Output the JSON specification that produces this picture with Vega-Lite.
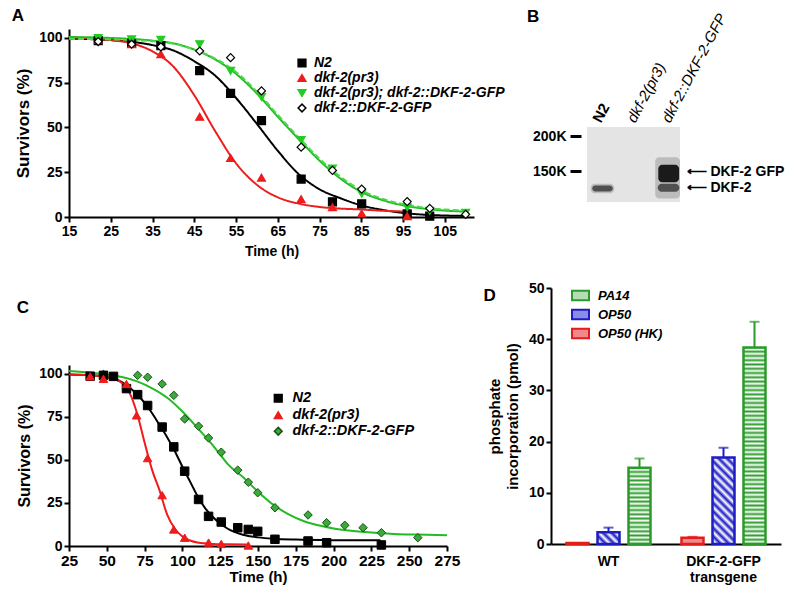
{
  "$schema": "https://vega.github.io/schema/vega-lite/v6.json",
  "background": "white",
  "padding": {"left": 11, "top": 7, "right": 0, "bottom": 0},
  "config": {
    "font": "Liberation Sans",
    "view": {"stroke": null},
    "axis": {"domainColor": "black", "domainWidth": 2, "tickColor": "black", "tickWidth": 2, "tickSize": 5, "labelFont": "Liberation Sans", "labelFontWeight": "bold", "labelFontSize": 14, "labelColor": "black", "labelPadding": 2, "titleFont": "Liberation Sans", "titleFontWeight": "bold", "titleFontSize": 16, "titleColor": "black", "grid": false},
    "title": {"font": "Liberation Sans", "fontSize": 17, "fontWeight": "bold", "color": "black", "anchor": "start", "frame": "bounds"},
    "legend": {"labelFont": "Liberation Sans", "labelFontSize": 13, "labelFontStyle": "italic", "labelFontWeight": "bold", "labelColor": "black", "padding": 0, "labelLimit": 400}
  },
  "datasets": {
    "ptsA": [
      {"s": "N2", "t": 22, "y": 98.5}, {"s": "N2", "t": 30, "y": 97}, {"s": "N2", "t": 37, "y": 95.7}, {"s": "N2", "t": 46.3, "y": 81.7}, {"s": "N2", "t": 53.7, "y": 69}, {"s": "N2", "t": 61.1, "y": 53.8}, {"s": "N2", "t": 70.6, "y": 21.2}, {"s": "N2", "t": 78.1, "y": 8.5}, {"s": "N2", "t": 85.1, "y": 7.3}, {"s": "N2", "t": 96, "y": 1.7}, {"s": "N2", "t": 101.4, "y": 0.5},
      {"s": "dkf-2(pr3)", "t": 22, "y": 99}, {"s": "dkf-2(pr3)", "t": 30, "y": 96.5}, {"s": "dkf-2(pr3)", "t": 37, "y": 91}, {"s": "dkf-2(pr3)", "t": 46.3, "y": 56}, {"s": "dkf-2(pr3)", "t": 53.7, "y": 33}, {"s": "dkf-2(pr3)", "t": 61.1, "y": 22}, {"s": "dkf-2(pr3)", "t": 70.6, "y": 10}, {"s": "dkf-2(pr3)", "t": 78.1, "y": 5.5}, {"s": "dkf-2(pr3)", "t": 85.1, "y": 2}, {"s": "dkf-2(pr3)", "t": 96, "y": 0.5},
      {"s": "dkf-2(pr3); dkf-2::DKF-2-GFP", "t": 22, "y": 100}, {"s": "dkf-2(pr3); dkf-2::DKF-2-GFP", "t": 30, "y": 99.2}, {"s": "dkf-2(pr3); dkf-2::DKF-2-GFP", "t": 37, "y": 99}, {"s": "dkf-2(pr3); dkf-2::DKF-2-GFP", "t": 46.3, "y": 96.5}, {"s": "dkf-2(pr3); dkf-2::DKF-2-GFP", "t": 53.7, "y": 81.6}, {"s": "dkf-2(pr3); dkf-2::DKF-2-GFP", "t": 61.1, "y": 67}, {"s": "dkf-2(pr3); dkf-2::DKF-2-GFP", "t": 70.6, "y": 43}, {"s": "dkf-2(pr3); dkf-2::DKF-2-GFP", "t": 78.1, "y": 27}, {"s": "dkf-2(pr3); dkf-2::DKF-2-GFP", "t": 85.1, "y": 13}, {"s": "dkf-2(pr3); dkf-2::DKF-2-GFP", "t": 96, "y": 5.4}, {"s": "dkf-2(pr3); dkf-2::DKF-2-GFP", "t": 101.4, "y": 3.5}, {"s": "dkf-2(pr3); dkf-2::DKF-2-GFP", "t": 110, "y": 2.4},
      {"s": "dkf-2::DKF-2-GFP", "t": 22, "y": 98}, {"s": "dkf-2::DKF-2-GFP", "t": 30, "y": 96.5}, {"s": "dkf-2::DKF-2-GFP", "t": 37, "y": 95}, {"s": "dkf-2::DKF-2-GFP", "t": 46.3, "y": 92.7}, {"s": "dkf-2::DKF-2-GFP", "t": 53.7, "y": 89}, {"s": "dkf-2::DKF-2-GFP", "t": 61.1, "y": 70.4}, {"s": "dkf-2::DKF-2-GFP", "t": 70.6, "y": 39}, {"s": "dkf-2::DKF-2-GFP", "t": 78.1, "y": 26}, {"s": "dkf-2::DKF-2-GFP", "t": 85.1, "y": 15.6}, {"s": "dkf-2::DKF-2-GFP", "t": 96, "y": 8.6}, {"s": "dkf-2::DKF-2-GFP", "t": 101.4, "y": 4.8}, {"s": "dkf-2::DKF-2-GFP", "t": 110, "y": 1.5}
    ],
    "curvesA": [
      {"s": "N2", "t": 15, "y": 99.6}, {"s": "N2", "t": 25, "y": 98.8}, {"s": "N2", "t": 35, "y": 96}, {"s": "N2", "t": 40, "y": 93}, {"s": "N2", "t": 45, "y": 87}, {"s": "N2", "t": 50, "y": 79}, {"s": "N2", "t": 55, "y": 66.5}, {"s": "N2", "t": 60, "y": 52}, {"s": "N2", "t": 65, "y": 37}, {"s": "N2", "t": 70, "y": 24}, {"s": "N2", "t": 75, "y": 15.5}, {"s": "N2", "t": 80, "y": 10.5}, {"s": "N2", "t": 85, "y": 6.5}, {"s": "N2", "t": 90, "y": 4}, {"s": "N2", "t": 95, "y": 2.3}, {"s": "N2", "t": 100, "y": 1.3}, {"s": "N2", "t": 110, "y": 0.6},
      {"s": "dkf-2(pr3)", "t": 15, "y": 100.4}, {"s": "dkf-2(pr3)", "t": 25, "y": 98.8}, {"s": "dkf-2(pr3)", "t": 30, "y": 97}, {"s": "dkf-2(pr3)", "t": 35, "y": 92.5}, {"s": "dkf-2(pr3)", "t": 40, "y": 84}, {"s": "dkf-2(pr3)", "t": 45, "y": 68}, {"s": "dkf-2(pr3)", "t": 50, "y": 48}, {"s": "dkf-2(pr3)", "t": 55, "y": 30}, {"s": "dkf-2(pr3)", "t": 60, "y": 18}, {"s": "dkf-2(pr3)", "t": 65, "y": 11}, {"s": "dkf-2(pr3)", "t": 70, "y": 7.5}, {"s": "dkf-2(pr3)", "t": 75, "y": 5.6}, {"s": "dkf-2(pr3)", "t": 80, "y": 4.7}, {"s": "dkf-2(pr3)", "t": 85, "y": 4.2}, {"s": "dkf-2(pr3)", "t": 90, "y": 3.5}, {"s": "dkf-2(pr3)", "t": 96.7, "y": 3},
      {"s": "dkf-2(pr3); dkf-2::DKF-2-GFP", "t": 15, "y": 100.5}, {"s": "dkf-2(pr3); dkf-2::DKF-2-GFP", "t": 25, "y": 100}, {"s": "dkf-2(pr3); dkf-2::DKF-2-GFP", "t": 35, "y": 98.5}, {"s": "dkf-2(pr3); dkf-2::DKF-2-GFP", "t": 40, "y": 97}, {"s": "dkf-2(pr3); dkf-2::DKF-2-GFP", "t": 45, "y": 93.5}, {"s": "dkf-2(pr3); dkf-2::DKF-2-GFP", "t": 50, "y": 88}, {"s": "dkf-2(pr3); dkf-2::DKF-2-GFP", "t": 55, "y": 80}, {"s": "dkf-2(pr3); dkf-2::DKF-2-GFP", "t": 60, "y": 69}, {"s": "dkf-2(pr3); dkf-2::DKF-2-GFP", "t": 65, "y": 56}, {"s": "dkf-2(pr3); dkf-2::DKF-2-GFP", "t": 70, "y": 43.5}, {"s": "dkf-2(pr3); dkf-2::DKF-2-GFP", "t": 75, "y": 31.5}, {"s": "dkf-2(pr3); dkf-2::DKF-2-GFP", "t": 80, "y": 21.5}, {"s": "dkf-2(pr3); dkf-2::DKF-2-GFP", "t": 85, "y": 14}, {"s": "dkf-2(pr3); dkf-2::DKF-2-GFP", "t": 90, "y": 9.5}, {"s": "dkf-2(pr3); dkf-2::DKF-2-GFP", "t": 95, "y": 6.5}, {"s": "dkf-2(pr3); dkf-2::DKF-2-GFP", "t": 100, "y": 4.7}, {"s": "dkf-2(pr3); dkf-2::DKF-2-GFP", "t": 105, "y": 3.6}, {"s": "dkf-2(pr3); dkf-2::DKF-2-GFP", "t": 110, "y": 3},
      {"s": "dkf-2::DKF-2-GFP", "t": 15, "y": 99.5}, {"s": "dkf-2::DKF-2-GFP", "t": 25, "y": 99.2}, {"s": "dkf-2::DKF-2-GFP", "t": 35, "y": 98.2}, {"s": "dkf-2::DKF-2-GFP", "t": 40, "y": 96.8}, {"s": "dkf-2::DKF-2-GFP", "t": 45, "y": 93.5}, {"s": "dkf-2::DKF-2-GFP", "t": 50, "y": 88.5}, {"s": "dkf-2::DKF-2-GFP", "t": 55, "y": 81}, {"s": "dkf-2::DKF-2-GFP", "t": 60, "y": 70}, {"s": "dkf-2::DKF-2-GFP", "t": 65, "y": 57}, {"s": "dkf-2::DKF-2-GFP", "t": 70, "y": 44.5}, {"s": "dkf-2::DKF-2-GFP", "t": 75, "y": 32.5}, {"s": "dkf-2::DKF-2-GFP", "t": 80, "y": 22.5}, {"s": "dkf-2::DKF-2-GFP", "t": 85, "y": 15}, {"s": "dkf-2::DKF-2-GFP", "t": 90, "y": 10.2}, {"s": "dkf-2::DKF-2-GFP", "t": 95, "y": 7.2}, {"s": "dkf-2::DKF-2-GFP", "t": 100, "y": 5.3}, {"s": "dkf-2::DKF-2-GFP", "t": 105, "y": 4.2}, {"s": "dkf-2::DKF-2-GFP", "t": 110, "y": 3.5}
    ],
    "ptsC": [
      {"s": "dkf-2::DKF-2-GFP", "t": 47.8, "y": 99.5}, {"s": "dkf-2::DKF-2-GFP", "t": 70.4, "y": 99}, {"s": "dkf-2::DKF-2-GFP", "t": 77, "y": 97.9}, {"s": "dkf-2::DKF-2-GFP", "t": 86.6, "y": 94}, {"s": "dkf-2::DKF-2-GFP", "t": 94.3, "y": 87.4}, {"s": "dkf-2::DKF-2-GFP", "t": 101.5, "y": 73.7}, {"s": "dkf-2::DKF-2-GFP", "t": 110.7, "y": 69.5}, {"s": "dkf-2::DKF-2-GFP", "t": 117.3, "y": 62.7}, {"s": "dkf-2::DKF-2-GFP", "t": 125.7, "y": 54.4}, {"s": "dkf-2::DKF-2-GFP", "t": 136.6, "y": 44}, {"s": "dkf-2::DKF-2-GFP", "t": 143.6, "y": 37}, {"s": "dkf-2::DKF-2-GFP", "t": 149.8, "y": 30.9}, {"s": "dkf-2::DKF-2-GFP", "t": 161.2, "y": 22.2}, {"s": "dkf-2::DKF-2-GFP", "t": 183.1, "y": 18}, {"s": "dkf-2::DKF-2-GFP", "t": 195.4, "y": 13.5}, {"s": "dkf-2::DKF-2-GFP", "t": 207.4, "y": 12}, {"s": "dkf-2::DKF-2-GFP", "t": 219.5, "y": 10.6}, {"s": "dkf-2::DKF-2-GFP", "t": 231.6, "y": 7.7}, {"s": "dkf-2::DKF-2-GFP", "t": 255.7, "y": 4.8},
      {"s": "N2", "t": 39, "y": 98.5}, {"s": "N2", "t": 47.8, "y": 99}, {"s": "N2", "t": 54.4, "y": 98.4}, {"s": "N2", "t": 63, "y": 91.3}, {"s": "N2", "t": 70.4, "y": 87.8}, {"s": "N2", "t": 77, "y": 81.5}, {"s": "N2", "t": 86.6, "y": 69}, {"s": "N2", "t": 94.3, "y": 57.5}, {"s": "N2", "t": 101.5, "y": 43.4}, {"s": "N2", "t": 110.7, "y": 27}, {"s": "N2", "t": 117.3, "y": 17.2}, {"s": "N2", "t": 125.7, "y": 13.9}, {"s": "N2", "t": 136.6, "y": 10.6}, {"s": "N2", "t": 143.6, "y": 9.6}, {"s": "N2", "t": 149.8, "y": 8.5}, {"s": "N2", "t": 161.2, "y": 3.9}, {"s": "N2", "t": 183.1, "y": 2.9}, {"s": "N2", "t": 195.4, "y": 1.9}, {"s": "N2", "t": 231.6, "y": 0.6},
      {"s": "dkf-2(pr3)", "t": 39, "y": 98.4}, {"s": "dkf-2(pr3)", "t": 47.8, "y": 97}, {"s": "dkf-2(pr3)", "t": 63, "y": 94}, {"s": "dkf-2(pr3)", "t": 69.7, "y": 75.8}, {"s": "dkf-2(pr3)", "t": 77, "y": 51}, {"s": "dkf-2(pr3)", "t": 86.6, "y": 29.5}, {"s": "dkf-2(pr3)", "t": 94.3, "y": 9.6}, {"s": "dkf-2(pr3)", "t": 101.5, "y": 4.8}, {"s": "dkf-2(pr3)", "t": 117.3, "y": 2}, {"s": "dkf-2(pr3)", "t": 125.7, "y": 1.2}, {"s": "dkf-2(pr3)", "t": 143.6, "y": 0.3}
    ],
    "curvesC": [
      {"s": "N2", "t": 25, "y": 99.5}, {"s": "N2", "t": 40, "y": 99}, {"s": "N2", "t": 50, "y": 98}, {"s": "N2", "t": 60, "y": 95}, {"s": "N2", "t": 65, "y": 92}, {"s": "N2", "t": 70, "y": 88}, {"s": "N2", "t": 75, "y": 83}, {"s": "N2", "t": 80, "y": 77}, {"s": "N2", "t": 85, "y": 70}, {"s": "N2", "t": 90, "y": 63}, {"s": "N2", "t": 95, "y": 55}, {"s": "N2", "t": 100, "y": 46}, {"s": "N2", "t": 105, "y": 37.5}, {"s": "N2", "t": 110, "y": 29}, {"s": "N2", "t": 115, "y": 22}, {"s": "N2", "t": 120, "y": 17}, {"s": "N2", "t": 125, "y": 13}, {"s": "N2", "t": 130, "y": 10}, {"s": "N2", "t": 140, "y": 6.5}, {"s": "N2", "t": 150, "y": 5}, {"s": "N2", "t": 160, "y": 4.2}, {"s": "N2", "t": 175, "y": 3.7}, {"s": "N2", "t": 200, "y": 3.4}, {"s": "N2", "t": 231, "y": 3.3},
      {"s": "dkf-2(pr3)", "t": 25, "y": 99.5}, {"s": "dkf-2(pr3)", "t": 40, "y": 99}, {"s": "dkf-2(pr3)", "t": 50, "y": 98}, {"s": "dkf-2(pr3)", "t": 55, "y": 97}, {"s": "dkf-2(pr3)", "t": 60, "y": 94.5}, {"s": "dkf-2(pr3)", "t": 65, "y": 89}, {"s": "dkf-2(pr3)", "t": 70, "y": 77}, {"s": "dkf-2(pr3)", "t": 75, "y": 60}, {"s": "dkf-2(pr3)", "t": 78, "y": 50}, {"s": "dkf-2(pr3)", "t": 80, "y": 44}, {"s": "dkf-2(pr3)", "t": 85, "y": 32}, {"s": "dkf-2(pr3)", "t": 90, "y": 18}, {"s": "dkf-2(pr3)", "t": 95, "y": 10}, {"s": "dkf-2(pr3)", "t": 100, "y": 5.5}, {"s": "dkf-2(pr3)", "t": 105, "y": 3.2}, {"s": "dkf-2(pr3)", "t": 110, "y": 2}, {"s": "dkf-2(pr3)", "t": 120, "y": 1.2}, {"s": "dkf-2(pr3)", "t": 130, "y": 1}, {"s": "dkf-2(pr3)", "t": 143, "y": 0.9},
      {"s": "dkf-2::DKF-2-GFP", "t": 25, "y": 101.5}, {"s": "dkf-2::DKF-2-GFP", "t": 40, "y": 100.5}, {"s": "dkf-2::DKF-2-GFP", "t": 50, "y": 99.5}, {"s": "dkf-2::DKF-2-GFP", "t": 60, "y": 98}, {"s": "dkf-2::DKF-2-GFP", "t": 70, "y": 95.5}, {"s": "dkf-2::DKF-2-GFP", "t": 80, "y": 91.5}, {"s": "dkf-2::DKF-2-GFP", "t": 90, "y": 86}, {"s": "dkf-2::DKF-2-GFP", "t": 100, "y": 78}, {"s": "dkf-2::DKF-2-GFP", "t": 110, "y": 68.5}, {"s": "dkf-2::DKF-2-GFP", "t": 120, "y": 58.5}, {"s": "dkf-2::DKF-2-GFP", "t": 125, "y": 53}, {"s": "dkf-2::DKF-2-GFP", "t": 130, "y": 47.5}, {"s": "dkf-2::DKF-2-GFP", "t": 140, "y": 40}, {"s": "dkf-2::DKF-2-GFP", "t": 150, "y": 31.5}, {"s": "dkf-2::DKF-2-GFP", "t": 160, "y": 24}, {"s": "dkf-2::DKF-2-GFP", "t": 170, "y": 18.5}, {"s": "dkf-2::DKF-2-GFP", "t": 180, "y": 14.5}, {"s": "dkf-2::DKF-2-GFP", "t": 190, "y": 12}, {"s": "dkf-2::DKF-2-GFP", "t": 200, "y": 10.2}, {"s": "dkf-2::DKF-2-GFP", "t": 210, "y": 9}, {"s": "dkf-2::DKF-2-GFP", "t": 225, "y": 7.8}, {"s": "dkf-2::DKF-2-GFP", "t": 240, "y": 7}, {"s": "dkf-2::DKF-2-GFP", "t": 255, "y": 6.6}, {"s": "dkf-2::DKF-2-GFP", "t": 275, "y": 6.3}
    ],
    "gel": [{"x": 0, "x2": 3, "y": 106, "y2": 213}],
    "bands": [
      {"k": "faint", "x": 0.12, "x2": 0.88, "y": 118.5, "y2": 132},
      {"k": "band", "x": 0.17, "x2": 0.83, "y": 121, "y2": 129.5},
      {"k": "haze", "x": 2.2, "x2": 3.0, "y": 111, "y2": 170},
      {"k": "band", "x": 2.28, "x2": 2.98, "y": 120.5, "y2": 132},
      {"k": "core", "x": 2.3, "x2": 2.97, "y": 134, "y2": 159}
    ],
    "bars": [
      {"g": "WT", "t": "OP50 (HK)", "v": 0.2},
      {"g": "WT", "t": "OP50", "v": 2.3, "hi": 3.2},
      {"g": "WT", "t": "PA14", "v": 14.9, "hi": 16.7},
      {"g": "DKF", "t": "OP50 (HK)", "v": 1.2, "hi": 1.4},
      {"g": "DKF", "t": "OP50", "v": 16.9, "hi": 18.8},
      {"g": "DKF", "t": "PA14", "v": 38.4, "hi": 43.4}
    ]
  },
  "spacing": -22,
  "resolve": {
    "scale": {"color": "independent", "fill": "independent", "stroke": "independent", "shape": "independent", "strokeDash": "independent"}
  },
  "hconcat": [
    {
      "spacing": 41,
      "resolve": {
        "scale": {"color": "independent", "fill": "independent", "stroke": "independent", "shape": "independent", "strokeDash": "independent"}
      },
      "vconcat": [
        {
          "width": 405, "height": 188,
          "title": {"text": "A", "dx": -3, "offset": 4},
          "layer": [
            {
              "data": {"name": "curvesA"},
              "mark": {"type": "line", "strokeWidth": 2, "interpolate": "monotone"},
              "encoding": {
                "x": {"field": "t", "type": "quantitative", "scale": {"domain": [15, 112], "nice": false, "zero": false}, "axis": {"values": [15, 25, 35, 45, 55, 65, 75, 85, 95, 105], "title": "Time (h)", "titleFontSize": 14, "titlePadding": 6, "labelPadding": 2, "labelFlush": false, "labelOverlap": false}},
                "y": {"field": "y", "type": "quantitative", "scale": {"domain": [0, 105], "nice": false}, "axis": {"values": [0, 25, 50, 75, 100], "title": "Survivors (%)", "titleFontSize": 17, "titlePadding": 6}},
                "color": {"field": "s", "type": "nominal", "scale": {"domain": ["dkf-2::DKF-2-GFP", "dkf-2(pr3); dkf-2::DKF-2-GFP", "dkf-2(pr3)", "N2"], "range": ["#4cd84c", "#22bb22", "#ee1c1c", "#000000"]}, "legend": null},
                "strokeDash": {"field": "s", "type": "nominal", "scale": {"domain": ["dkf-2::DKF-2-GFP", "dkf-2(pr3); dkf-2::DKF-2-GFP", "dkf-2(pr3)", "N2"], "range": [[6, 3], [1, 0], [1, 0], [1, 0]]}, "legend": null}
              }
            },
            {
              "data": {"name": "ptsA"},
              "mark": {"type": "point", "filled": true, "size": 64, "strokeWidth": 1.2, "opacity": 1},
              "encoding": {
                "x": {"field": "t", "type": "quantitative", "axis": {"values": [15, 25, 35, 45, 55, 65, 75, 85, 95, 105], "title": "Time (h)", "titleFontSize": 14, "titlePadding": 6, "labelPadding": 2, "labelFlush": false, "labelOverlap": false}},
                "y": {"field": "y", "type": "quantitative"},
                "shape": {"field": "s", "type": "nominal", "scale": {"domain": ["N2", "dkf-2(pr3)", "dkf-2(pr3); dkf-2::DKF-2-GFP", "dkf-2::DKF-2-GFP"], "range": ["square", "triangle-up", "triangle-down", "diamond"]}, "legend": {"title": null, "orient": "none", "legendX": 226, "legendY": 27, "symbolSize": 60, "labelOffset": 5, "rowPadding": 1, "labelFontSize": 14}},
                "fill": {"field": "s", "type": "nominal", "scale": {"domain": ["N2", "dkf-2(pr3)", "dkf-2(pr3); dkf-2::DKF-2-GFP", "dkf-2::DKF-2-GFP"], "range": ["#000000", "#ee1c1c", "#22cc22", "#ffffff"]}, "legend": {"title": null, "orient": "none", "legendX": 226, "legendY": 27, "symbolSize": 60, "labelOffset": 5, "rowPadding": 1, "labelFontSize": 14}},
                "stroke": {"field": "s", "type": "nominal", "scale": {"domain": ["N2", "dkf-2(pr3)", "dkf-2(pr3); dkf-2::DKF-2-GFP", "dkf-2::DKF-2-GFP"], "range": ["#000000", "#ee1c1c", "#22cc22", "#000000"]}, "legend": {"title": null, "orient": "none", "legendX": 226, "legendY": 27, "symbolSize": 60, "labelOffset": 5, "rowPadding": 1, "labelFontSize": 14}}
              }
            }
          ]
        },
        {
          "width": 378, "height": 181,
          "title": {"text": "C", "offset": 48},
          "layer": [
            {
              "data": {"name": "curvesC"},
              "mark": {"type": "line", "strokeWidth": 2, "interpolate": "monotone"},
              "encoding": {
                "x": {"field": "t", "type": "quantitative", "scale": {"domain": [25, 275], "nice": false, "zero": false}, "axis": {"values": [25, 50, 75, 100, 125, 150, 175, 200, 225, 250, 275], "title": "Time (h)", "titleFontSize": 15, "titlePadding": 1, "labelFontSize": 15.5, "labelPadding": 2, "labelFlush": false, "labelOverlap": false}},
                "y": {"field": "y", "type": "quantitative", "scale": {"domain": [0, 105], "nice": false}, "axis": {"values": [0, 25, 50, 75, 100], "title": "Survivors (%)", "titleFontSize": 16, "titlePadding": 6}},
                "color": {"field": "s", "type": "nominal", "scale": {"domain": ["dkf-2::DKF-2-GFP", "dkf-2(pr3)", "N2"], "range": ["#22bb22", "#ee1c1c", "#000000"]}, "legend": null}
              }
            },
            {
              "data": {"name": "ptsC"},
              "mark": {"type": "point", "filled": true, "size": 72, "strokeWidth": 1, "opacity": 1},
              "encoding": {
                "x": {"field": "t", "type": "quantitative", "axis": {"values": [25, 50, 75, 100, 125, 150, 175, 200, 225, 250, 275], "title": "Time (h)", "titleFontSize": 15, "titlePadding": 1, "labelFontSize": 15.5, "labelPadding": 2, "labelFlush": false, "labelOverlap": false}},
                "y": {"field": "y", "type": "quantitative"},
                "shape": {"field": "s", "type": "nominal", "scale": {"domain": ["N2", "dkf-2(pr3)", "dkf-2::DKF-2-GFP"], "range": ["square", "triangle-up", "diamond"]}, "legend": {"title": null, "orient": "none", "legendX": 202, "legendY": 26, "symbolSize": 60, "labelOffset": 7, "rowPadding": 1, "labelFontSize": 14.5}},
                "fill": {"field": "s", "type": "nominal", "scale": {"domain": ["N2", "dkf-2(pr3)", "dkf-2::DKF-2-GFP"], "range": ["#000000", "#ee1c1c", "#3aaa3a"]}, "legend": {"title": null, "orient": "none", "legendX": 202, "legendY": 26, "symbolSize": 60, "labelOffset": 7, "rowPadding": 1, "labelFontSize": 14.5}},
                "stroke": {"field": "s", "type": "nominal", "scale": {"domain": ["N2", "dkf-2(pr3)", "dkf-2::DKF-2-GFP"], "range": ["#000000", "#ee1c1c", "#174f17"]}, "legend": {"title": null, "orient": "none", "legendX": 202, "legendY": 26, "symbolSize": 60, "labelOffset": 7, "rowPadding": 1, "labelFontSize": 14.5}}
              }
            }
          ]
        }
      ]
    },
    {
      "spacing": 79,
      "resolve": {
        "scale": {"color": "independent", "fill": "independent", "stroke": "independent", "shape": "independent", "strokeDash": "independent"}
      },
      "vconcat": [
        {
          "width": 129, "height": 173,
          "title": {"text": "B", "frame": "group", "dx": -24, "offset": -15},
          "resolve": {"axis": {"y": "independent", "x": "independent"}},
          "layer": [
            {
              "data": {"name": "gel"},
              "mark": {"type": "rect", "fill": "#e4e4e4"},
              "encoding": {
                "x": {"field": "x", "type": "quantitative", "scale": {"domain": [-1.161, 3], "nice": false, "zero": false}, "axis": {"orient": "top", "offset": -98, "values": [0.29, 1.4, 2.52], "labelExpr": "datum.value < 1 ? 'N2' : datum.value < 2 ? 'dkf-2(pr3)' : 'dkf-2::DKF-2-GFP'", "labelAngle": -62, "labelAlign": "left", "labelBaseline": "middle", "labelOverlap": false, "domain": false, "ticks": false, "labelPadding": 6, "labelFontSize": 15, "labelFontWeight": {"condition": {"test": "datum.value < 1", "value": "bold"}, "value": "normal"}, "labelFontStyle": {"condition": {"test": "datum.value < 1", "value": "normal"}, "value": "italic"}, "title": null}},
                "x2": {"field": "x2"},
                "y": {"field": "y", "type": "quantitative", "scale": {"domain": [106, 352.8], "nice": false, "zero": false}, "axis": {"orient": "left", "values": [150, 200], "labelExpr": "datum.value + 'K'", "offset": -30, "domain": false, "tickSize": 11, "tickWidth": 3, "labelPadding": 4, "labelOverlap": false, "title": null}},
                "y2": {"field": "y2"}
              }
            },
            {
              "data": {"name": "bands"},
              "mark": {"type": "rect", "cornerRadius": 4},
              "encoding": {
                "x": {"field": "x", "type": "quantitative", "axis": null},
                "x2": {"field": "x2"},
                "y": {"field": "y", "type": "quantitative", "axis": {"orient": "right", "values": [150, 126], "labelExpr": "datum.value > 140 ? '⟵  DKF-2 GFP' : '⟵  DKF-2'", "domain": false, "ticks": false, "labelPadding": 6, "labelFontSize": 14, "labelOverlap": false, "title": null}},
                "y2": {"field": "y2"},
                "fill": {"field": "k", "type": "nominal", "scale": {"domain": ["faint", "haze", "band", "core"], "range": ["#bdbdbd", "#bcbcbc", "#505050", "#1a1a1a"]}, "legend": null}
              }
            }
          ]
        },
        {
          "width": 230, "height": 256,
          "title": {"text": "D", "dx": -4, "offset": -24},
          "data": {"name": "bars"},
          "encoding": {
            "x": {"field": "g", "type": "nominal", "scale": {"domain": ["WT", "DKF"], "paddingInner": 0, "paddingOuter": 0}, "axis": {"title": null, "ticks": false, "labelAngle": 0, "labelPadding": 10, "labelExpr": "datum.value == 'WT' ? 'WT' : ['DKF-2-GFP', 'transgene']"}},
            "xOffset": {"field": "t", "type": "nominal", "scale": {"domain": ["OP50 (HK)", "OP50", "PA14"], "paddingInner": 0.29, "paddingOuter": 0.5}}
          },
          "layer": [
            {
              "mark": {"type": "bar", "strokeWidth": 2.5},
              "encoding": {
                "y": {"field": "v", "type": "quantitative", "scale": {"domain": [0, 50], "nice": false}, "axis": {"values": [0, 10, 20, 30, 40, 50], "title": ["phosphate", "incorporation (pmol)"], "titleFontSize": 15, "titleLineHeight": 18, "titlePadding": 8}},
                "fill": {
                  "field": "t", "type": "nominal",
                  "scale": {"domain": ["PA14", "OP50", "OP50 (HK)"], "range": ["#b6dcb6", "#8c8ce4", "#f08a8a"]},
                  "legend": {"title": null, "orient": "none", "legendX": 20, "legendY": -2, "symbolType": "M-1,-0.55H1V0.55H-1Z", "symbolSize": 289, "symbolStrokeWidth": 2, "labelOffset": 8, "rowPadding": 0},
                  "condition": [
                    {"test": "datum.g == 'WT' && datum.t == 'PA14'", "value": {"gradient": "linear", "x1": 0, "y1": 0, "x2": 0, "y2": 1, "stops": [{"offset": 0, "color": "#2e9e2e"}, {"offset": 0.0278, "color": "#fff"}, {"offset": 0.0556, "color": "#2e9e2e"}, {"offset": 0.0833, "color": "#fff"}, {"offset": 0.1111, "color": "#2e9e2e"}, {"offset": 0.1389, "color": "#fff"}, {"offset": 0.1667, "color": "#2e9e2e"}, {"offset": 0.1944, "color": "#fff"}, {"offset": 0.2222, "color": "#2e9e2e"}, {"offset": 0.25, "color": "#fff"}, {"offset": 0.2778, "color": "#2e9e2e"}, {"offset": 0.3056, "color": "#fff"}, {"offset": 0.3333, "color": "#2e9e2e"}, {"offset": 0.3611, "color": "#fff"}, {"offset": 0.3889, "color": "#2e9e2e"}, {"offset": 0.4167, "color": "#fff"}, {"offset": 0.4444, "color": "#2e9e2e"}, {"offset": 0.4722, "color": "#fff"}, {"offset": 0.5, "color": "#2e9e2e"}, {"offset": 0.5278, "color": "#fff"}, {"offset": 0.5556, "color": "#2e9e2e"}, {"offset": 0.5833, "color": "#fff"}, {"offset": 0.6111, "color": "#2e9e2e"}, {"offset": 0.6389, "color": "#fff"}, {"offset": 0.6667, "color": "#2e9e2e"}, {"offset": 0.6944, "color": "#fff"}, {"offset": 0.7222, "color": "#2e9e2e"}, {"offset": 0.75, "color": "#fff"}, {"offset": 0.7778, "color": "#2e9e2e"}, {"offset": 0.8056, "color": "#fff"}, {"offset": 0.8333, "color": "#2e9e2e"}, {"offset": 0.8611, "color": "#fff"}, {"offset": 0.8889, "color": "#2e9e2e"}, {"offset": 0.9167, "color": "#fff"}, {"offset": 0.9444, "color": "#2e9e2e"}, {"offset": 0.9722, "color": "#fff"}, {"offset": 1, "color": "#2e9e2e"}]}},
                    {"test": "datum.g == 'DKF' && datum.t == 'PA14'", "value": {"gradient": "linear", "x1": 0, "y1": 0, "x2": 0, "y2": 1, "stops": [{"offset": 0, "color": "#2e9e2e"}, {"offset": 0.0109, "color": "#fff"}, {"offset": 0.0217, "color": "#2e9e2e"}, {"offset": 0.0326, "color": "#fff"}, {"offset": 0.0435, "color": "#2e9e2e"}, {"offset": 0.0543, "color": "#fff"}, {"offset": 0.0652, "color": "#2e9e2e"}, {"offset": 0.0761, "color": "#fff"}, {"offset": 0.087, "color": "#2e9e2e"}, {"offset": 0.0978, "color": "#fff"}, {"offset": 0.1087, "color": "#2e9e2e"}, {"offset": 0.1196, "color": "#fff"}, {"offset": 0.1304, "color": "#2e9e2e"}, {"offset": 0.1413, "color": "#fff"}, {"offset": 0.1522, "color": "#2e9e2e"}, {"offset": 0.163, "color": "#fff"}, {"offset": 0.1739, "color": "#2e9e2e"}, {"offset": 0.1848, "color": "#fff"}, {"offset": 0.1957, "color": "#2e9e2e"}, {"offset": 0.2065, "color": "#fff"}, {"offset": 0.2174, "color": "#2e9e2e"}, {"offset": 0.2283, "color": "#fff"}, {"offset": 0.2391, "color": "#2e9e2e"}, {"offset": 0.25, "color": "#fff"}, {"offset": 0.2609, "color": "#2e9e2e"}, {"offset": 0.2717, "color": "#fff"}, {"offset": 0.2826, "color": "#2e9e2e"}, {"offset": 0.2935, "color": "#fff"}, {"offset": 0.3043, "color": "#2e9e2e"}, {"offset": 0.3152, "color": "#fff"}, {"offset": 0.3261, "color": "#2e9e2e"}, {"offset": 0.337, "color": "#fff"}, {"offset": 0.3478, "color": "#2e9e2e"}, {"offset": 0.3587, "color": "#fff"}, {"offset": 0.3696, "color": "#2e9e2e"}, {"offset": 0.3804, "color": "#fff"}, {"offset": 0.3913, "color": "#2e9e2e"}, {"offset": 0.4022, "color": "#fff"}, {"offset": 0.413, "color": "#2e9e2e"}, {"offset": 0.4239, "color": "#fff"}, {"offset": 0.4348, "color": "#2e9e2e"}, {"offset": 0.4457, "color": "#fff"}, {"offset": 0.4565, "color": "#2e9e2e"}, {"offset": 0.4674, "color": "#fff"}, {"offset": 0.4783, "color": "#2e9e2e"}, {"offset": 0.4891, "color": "#fff"}, {"offset": 0.5, "color": "#2e9e2e"}, {"offset": 0.5109, "color": "#fff"}, {"offset": 0.5217, "color": "#2e9e2e"}, {"offset": 0.5326, "color": "#fff"}, {"offset": 0.5435, "color": "#2e9e2e"}, {"offset": 0.5543, "color": "#fff"}, {"offset": 0.5652, "color": "#2e9e2e"}, {"offset": 0.5761, "color": "#fff"}, {"offset": 0.587, "color": "#2e9e2e"}, {"offset": 0.5978, "color": "#fff"}, {"offset": 0.6087, "color": "#2e9e2e"}, {"offset": 0.6196, "color": "#fff"}, {"offset": 0.6304, "color": "#2e9e2e"}, {"offset": 0.6413, "color": "#fff"}, {"offset": 0.6522, "color": "#2e9e2e"}, {"offset": 0.663, "color": "#fff"}, {"offset": 0.6739, "color": "#2e9e2e"}, {"offset": 0.6848, "color": "#fff"}, {"offset": 0.6957, "color": "#2e9e2e"}, {"offset": 0.7065, "color": "#fff"}, {"offset": 0.7174, "color": "#2e9e2e"}, {"offset": 0.7283, "color": "#fff"}, {"offset": 0.7391, "color": "#2e9e2e"}, {"offset": 0.75, "color": "#fff"}, {"offset": 0.7609, "color": "#2e9e2e"}, {"offset": 0.7717, "color": "#fff"}, {"offset": 0.7826, "color": "#2e9e2e"}, {"offset": 0.7935, "color": "#fff"}, {"offset": 0.8043, "color": "#2e9e2e"}, {"offset": 0.8152, "color": "#fff"}, {"offset": 0.8261, "color": "#2e9e2e"}, {"offset": 0.837, "color": "#fff"}, {"offset": 0.8478, "color": "#2e9e2e"}, {"offset": 0.8587, "color": "#fff"}, {"offset": 0.8696, "color": "#2e9e2e"}, {"offset": 0.8804, "color": "#fff"}, {"offset": 0.8913, "color": "#2e9e2e"}, {"offset": 0.9022, "color": "#fff"}, {"offset": 0.913, "color": "#2e9e2e"}, {"offset": 0.9239, "color": "#fff"}, {"offset": 0.9348, "color": "#2e9e2e"}, {"offset": 0.9457, "color": "#fff"}, {"offset": 0.9565, "color": "#2e9e2e"}, {"offset": 0.9674, "color": "#fff"}, {"offset": 0.9783, "color": "#2e9e2e"}, {"offset": 0.9891, "color": "#fff"}, {"offset": 1, "color": "#2e9e2e"}]}},
                    {"test": "datum.g == 'WT' && datum.t == 'OP50'", "value": {"gradient": "linear", "x1": 0, "y1": 1, "x2": 1.193, "y2": 0.36, "stops": [{"offset": 0, "color": "#1c1cc4"}, {"offset": 0.125, "color": "#fff"}, {"offset": 0.25, "color": "#1c1cc4"}, {"offset": 0.375, "color": "#fff"}, {"offset": 0.5, "color": "#1c1cc4"}, {"offset": 0.625, "color": "#fff"}, {"offset": 0.75, "color": "#1c1cc4"}, {"offset": 0.875, "color": "#fff"}, {"offset": 1, "color": "#1c1cc4"}]}},
                    {"test": "datum.g == 'DKF' && datum.t == 'OP50'", "value": {"gradient": "linear", "x1": 0, "y1": 1, "x2": 0.299, "y2": -0.178, "stops": [{"offset": 0, "color": "#1c1cc4"}, {"offset": 0.0385, "color": "#fff"}, {"offset": 0.0769, "color": "#1c1cc4"}, {"offset": 0.1154, "color": "#fff"}, {"offset": 0.1538, "color": "#1c1cc4"}, {"offset": 0.1923, "color": "#fff"}, {"offset": 0.2308, "color": "#1c1cc4"}, {"offset": 0.2692, "color": "#fff"}, {"offset": 0.3077, "color": "#1c1cc4"}, {"offset": 0.3462, "color": "#fff"}, {"offset": 0.3846, "color": "#1c1cc4"}, {"offset": 0.4231, "color": "#fff"}, {"offset": 0.4615, "color": "#1c1cc4"}, {"offset": 0.5, "color": "#fff"}, {"offset": 0.5385, "color": "#1c1cc4"}, {"offset": 0.5769, "color": "#fff"}, {"offset": 0.6154, "color": "#1c1cc4"}, {"offset": 0.6538, "color": "#fff"}, {"offset": 0.6923, "color": "#1c1cc4"}, {"offset": 0.7308, "color": "#fff"}, {"offset": 0.7692, "color": "#1c1cc4"}, {"offset": 0.8077, "color": "#fff"}, {"offset": 0.8462, "color": "#1c1cc4"}, {"offset": 0.8846, "color": "#fff"}, {"offset": 0.9231, "color": "#1c1cc4"}, {"offset": 0.9615, "color": "#fff"}, {"offset": 1, "color": "#1c1cc4"}]}}
                  ]
                },
                "stroke": {"field": "t", "type": "nominal", "scale": {"domain": ["PA14", "OP50", "OP50 (HK)"], "range": ["#2a9a2a", "#1c1cc4", "#e41c1c"]}, "legend": {"title": null, "orient": "none", "legendX": 20, "legendY": -2, "symbolType": "M-1,-0.55H1V0.55H-1Z", "symbolSize": 289, "symbolStrokeWidth": 2, "labelOffset": 8, "rowPadding": 0}}
              }
            },
            {
              "transform": [{"filter": {"field": "hi", "valid": true}}],
              "mark": {"type": "rule", "strokeWidth": 2},
              "encoding": {
                "y": {"field": "v", "type": "quantitative"},
                "y2": {"field": "hi"},
                "color": {"field": "t", "type": "nominal", "scale": {"domain": ["PA14", "OP50", "OP50 (HK)"], "range": ["#2a9a2a", "#1c1cc4", "#e41c1c"]}, "legend": null}
              }
            },
            {
              "transform": [{"filter": {"field": "hi", "valid": true}}],
              "mark": {"type": "tick", "thickness": 2, "size": 10, "orient": "horizontal"},
              "encoding": {
                "y": {"field": "hi", "type": "quantitative"},
                "color": {"field": "t", "type": "nominal", "scale": {"domain": ["PA14", "OP50", "OP50 (HK)"], "range": ["#2a9a2a", "#1c1cc4", "#e41c1c"]}, "legend": null}
              }
            }
          ]
        }
      ]
    }
  ]
}
